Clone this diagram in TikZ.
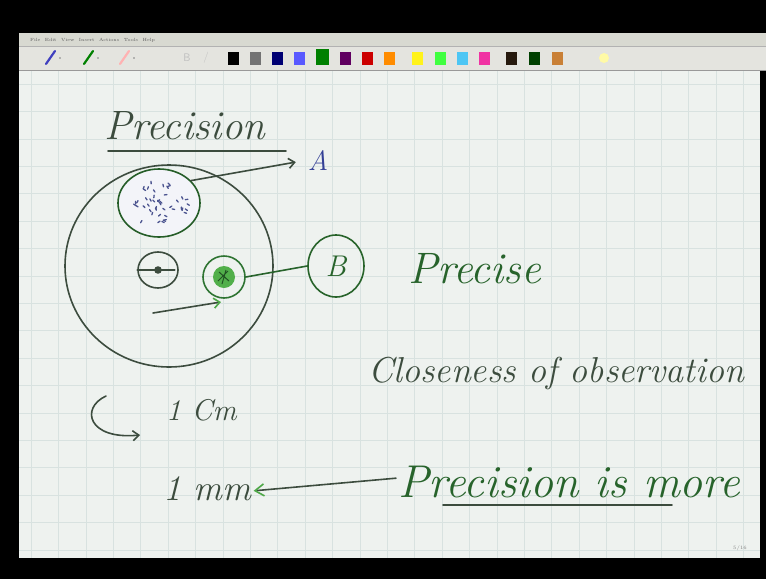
\documentclass[tikz,border=0pt]{standalone}
\usetikzlibrary{positioning,arrows.meta,shapes.geometric}
\definecolor{inkgray}{RGB}{60,76,62}
\definecolor{inkgreen}{RGB}{46,116,50}
\definecolor{inklight}{RGB}{90,190,80}
\definecolor{inkblue}{RGB}{52,64,150}
\definecolor{paper}{RGB}{238,242,239}
\definecolor{gridline}{RGB}{216,226,224}
\definecolor{barcol}{RGB}{216,217,209}

\begin{document}
\begin{tikzpicture}[x=1pt, y=-1pt,
  ink/.style={line width=1.6pt, line cap=round, line join=round},
  hand/.style={font=\itshape\fontsize{#1}{#1}\selectfont, inner sep=0pt},
  ring/.style={draw, ink, inner sep=0pt},
  swatch/.style={minimum width=11pt, minimum height=13pt, inner sep=0pt},
  >={Straight Barb[length=6pt, width=10pt]}
]
  % Screen and window
  \fill[black] (0,0) rectangle (766,579);
  \useasboundingbox (0,0) rectangle (766,579);
  \fill[barcol] (19,33) rectangle (766,46);
  \fill[barcol!70!white] (19,46) rectangle (766,70);
  \draw[gray!60] (19,46) -- (766,46);
  \draw[gray!80] (19,70.5) -- (766,70.5);
  \node[font=\fontsize{4.5}{5}\selectfont, text=gray!70!black, anchor=west, inner sep=0pt] (menu) at (30,40)
    {File\quad Edit\quad View\quad Insert\quad Actions\quad Tools\quad Help};

  % Toolbar
  \foreach \px/\pc in {46/blue!50!gray, 84/green!50!black, 120/red!30!white} {
    \draw[\pc, line width=2.2pt, line cap=round] (\px,64) -- (\px+9,51);
    \fill[gray] (\px+14,58) circle (0.8);
  }
  \node[font=\sffamily\fontsize{11}{11}\selectfont, text=gray!50] (bold) at (187,58) {B};
  \node[font=\sffamily\fontsize{11}{11}\selectfont, text=gray!50] (ital) at (206,58) {/};
  \foreach \sx/\sc in {233/black, 255/gray!90!black, 277/blue!45!black, 299/blue!65!white,
      345/violet!75!black, 367/red!80!black, 389/orange!90!yellow, 417/yellow!90!white,
      440/green!75!white, 462/cyan!70!white, 484/magenta!80!white, 511/black!80!brown,
      534/green!25!black, 557/brown!85!orange} {
    \node[swatch, fill=\sc] (sw\sx) at (\sx,58) {};
  }
  \node[swatch, fill=green!50!black, minimum width=13pt, minimum height=16pt] (swsel) at (322,57) {};
  \node[circle, fill=yellow!35!white, minimum size=10pt, inner sep=0pt] (hl) at (604,58) {};

  % Grid paper
  \fill[paper] (19,71) rectangle (760,558);
  \begin{scope}
    \clip (19,71) rectangle (760,558);
    \foreach \gx in {0,...,27} \draw[gridline] (31+\gx*27.4,71) -- (31+\gx*27.4,558);
    \foreach \gy in {0,...,18} \draw[gridline] (19,84+\gy*27.4) -- (760,84+\gy*27.4);
  \end{scope}

  % Title
  \node[hand=41, text=inkgray, anchor=base west] (title) at (104,139) {Precision};
  \draw[ink, inkgray] (108,151) -- (286,151);

  % Target field
  \node[ring, ellipse, draw=inkgray, minimum width=208pt, minimum height=202pt] (field) at (169,266) {};
  \node[ring, ellipse, draw=inkgreen!80!black, fill=inkblue!6, minimum width=82pt, minimum height=68pt] (clusterA) at (159,203) {};
  \pgfmathsetseed{11}
  \foreach \k in {1,...,46} {
    \pgfmathsetmacro\rr{sqrt(rnd)*0.82}
    \pgfmathsetmacro\aa{rnd*360}
    \pgfmathsetmacro\bb{rnd*180}
    \draw[inkblue!70!gray, line width=1.3pt, line cap=round]
      ({159+36*\rr*cos(\aa)},{203+29*\rr*sin(\aa)}) -- ++(\bb:2.6);
  }
  \node[ring, ellipse, draw=inkgray, minimum width=40pt, minimum height=36pt] (target) at (158,270) {};
  \fill[inkgray] (target.center) circle (3.8);
  \draw[ink, inkgray] (target.west) -- ([xshift=-4pt]target.east);

  \node[ring, circle, draw=inkgreen, minimum size=42pt] (clusterB) at (224,277) {};
  \fill[inklight!80!inkgreen] (clusterB.center) circle (11);
  \draw[inkgreen!70!black, line width=1pt] (219,272) -- (229,281) (218,281) -- (228,271) (222,284) -- (226,270);

  % Labels
  \node[hand=28, text=inkblue] (labelA) at (318,160) {A};
  \draw[ink, inkgray, ->, shorten >=12pt] (clusterA.35) -- (labelA.west);
  \node[ring, ellipse, draw=inkgreen!85!black, minimum width=56pt, minimum height=62pt,
    hand=30, text=inkgreen!85!black] (labelB) at (336,266) {B};
  \draw[ink, inkgreen!85!black] (clusterB.east) -- (labelB.west);
  \coordinate (tail) at (153,313);
  \draw[ink, inkgray, -{Straight Barb[length=6pt, width=10pt, color=inklight!70!inkgreen]}] (tail) -- (221,302);

  \node[hand=44, text=inkgreen!85!black, anchor=base west] (precise) at (408,283) {Precise};

  % Definition
  \node[hand=36, text=inkgray, anchor=base west] (close) at (368,382) {Closeness of observation};

  % Units
  \node[hand=30, text=inkgray, anchor=base west] (cm) at (166,420) {1 Cm};
  \coordinate (hookstart) at (106,396);
  \coordinate (hookend) at (140,435);
  \draw[ink, inkgray, ->] (hookstart) .. controls (80,408) and (88,440) .. (hookend);
  \node[hand=36, text=inkgray, anchor=base west] (mm) at (163,500) {1 mm};
  \node[hand=46, text=inkgreen!85!black, anchor=base west] (more) at (398,497) {Precision is more};
  \draw[ink, inkgray, -{Straight Barb[length=9pt, width=12pt, color=inklight!70!inkgreen]}, shorten <=2pt, shorten >=2pt]
    (more.west |- 0,478) -- (mm.east |- 0,491);
  \draw[ink, inkgray] (443,505) -- (672,505);

  \node[font=\fontsize{5}{5}\selectfont, text=gray] (page) at (740,548) {5/16};
\end{tikzpicture}
\end{document}
